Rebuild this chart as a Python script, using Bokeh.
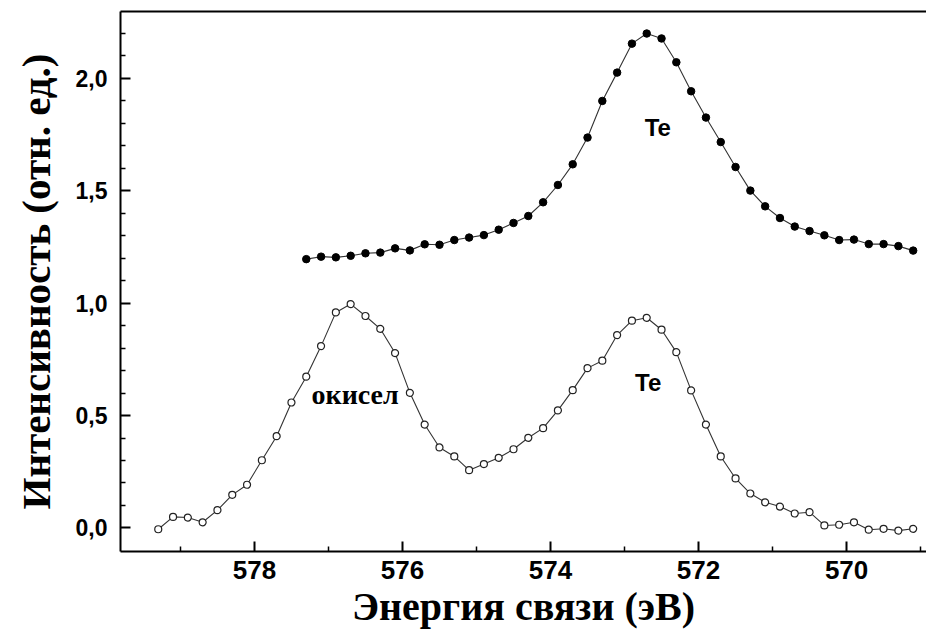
from bokeh.plotting import figure
from bokeh.models import Range1d, FixedTicker, LinearAxis, Label
from bokeh.embed import file_html
from bokeh.resources import INLINE

# Te (upper, filled markers)
energy_te = [577.3, 577.1, 576.9, 576.7, 576.5, 576.3, 576.1, 575.9, 575.7, 575.5,
             575.3, 575.1, 574.9, 574.7, 574.5, 574.3, 574.1, 573.9, 573.7, 573.5,
             573.3, 573.1, 572.9, 572.7, 572.5, 572.3, 572.1, 571.9, 571.7, 571.5,
             571.3, 571.1, 570.9, 570.7, 570.5, 570.3, 570.1, 569.9, 569.7, 569.5,
             569.3, 569.1]
intensity_te = [1.196, 1.207, 1.204, 1.211, 1.222, 1.225, 1.244, 1.235, 1.262, 1.260,
                1.281, 1.292, 1.303, 1.327, 1.357, 1.388, 1.449, 1.526, 1.618, 1.737,
                1.900, 2.026, 2.155, 2.200, 2.178, 2.072, 1.943, 1.826, 1.717, 1.606,
                1.501, 1.431, 1.379, 1.341, 1.321, 1.302, 1.281, 1.283, 1.263, 1.263,
                1.254, 1.234]

# oxide + Te (lower, open markers)
energy_ox = [579.3, 579.1, 578.9, 578.7, 578.5, 578.3, 578.1, 577.9, 577.7, 577.5,
             577.3, 577.1, 576.9, 576.7, 576.5, 576.3, 576.1, 575.9, 575.7, 575.5,
             575.3, 575.1, 574.9, 574.7, 574.5, 574.3, 574.1, 573.9, 573.7, 573.5,
             573.3, 573.1, 572.9, 572.7, 572.5, 572.3, 572.1, 571.9, 571.7, 571.5,
             571.3, 571.1, 570.9, 570.7, 570.5, 570.3, 570.1, 569.9, 569.7, 569.5,
             569.3, 569.1]
intensity_ox = [-0.006, 0.049, 0.046, 0.025, 0.079, 0.147, 0.192, 0.301, 0.408, 0.558,
                0.673, 0.809, 0.959, 0.996, 0.943, 0.886, 0.778, 0.601, 0.460, 0.358,
                0.318, 0.257, 0.284, 0.312, 0.350, 0.401, 0.444, 0.523, 0.613, 0.711,
                0.744, 0.858, 0.922, 0.935, 0.882, 0.782, 0.612, 0.460, 0.318, 0.220,
                0.153, 0.114, 0.095, 0.064, 0.070, 0.011, 0.014, 0.025, -0.008, -0.004,
                -0.012, -0.004]

x_major_ticks = [570, 572, 574, 576, 578]
x_minor_ticks = [569, 571, 573, 575, 577, 579]
y_major_ticks = [0.0, 0.5, 1.0, 1.5, 2.0]
y_tick_labels = ["0,0", "0,5", "1,0", "1,5", "2,0"]
y_minor_ticks = [0.1, 0.2, 0.3, 0.4, 0.6, 0.7, 0.8, 0.9, 1.1, 1.2, 1.3, 1.4,
                 1.6, 1.7, 1.8, 1.9, 2.1, 2.2]

x_title = "Энергия связи (эВ)"
y_title = "Интенсивность (отн. ед.)"

annotations = [
    (572.55, 1.78, "Te", "Liberation Sans", "24px"),
    (572.68, 0.645, "Te", "Liberation Sans", "24px"),
    (576.64, 0.595, "окисел", "Liberation Serif", "28px"),
]

p = figure(width=926, height=641, output_backend="svg", toolbar_location=None,
           x_range=Range1d(579.81, 568.92), y_range=Range1d(-0.105, 2.298),
           min_border_left=120, min_border_right=0, min_border_top=11,
           min_border_bottom=90, outline_line_color=None,
           background_fill_color="white", border_fill_color="white")
p.xgrid.visible = False
p.ygrid.visible = False

p.line(energy_te, intensity_te, line_color="#333333", line_width=1.1)
p.scatter(energy_te, intensity_te, size=7.5, fill_color="black", line_color="black")

p.line(energy_ox, intensity_ox, line_color="#333333", line_width=1.1)
p.scatter(energy_ox, intensity_ox, size=7, fill_color="white", line_color="#222222",
          line_width=1.2)

for ax in (p.xaxis[0], p.yaxis[0]):
    ax.axis_line_width = 2
    ax.major_tick_line_width = 2
    ax.minor_tick_line_width = 1.5
    ax.major_tick_in = 10
    ax.major_tick_out = 0
    ax.minor_tick_in = 5
    ax.minor_tick_out = 0
    ax.major_label_text_font = "Liberation Sans"
    ax.major_label_text_font_style = "bold"
    ax.major_label_text_color = "black"
    ax.axis_label_text_font = "Liberation Serif"
    ax.axis_label_text_font_style = "bold"
    ax.axis_label_text_color = "black"

xa = p.xaxis[0]
xa.ticker = FixedTicker(ticks=x_major_ticks, minor_ticks=x_minor_ticks)
xa.major_label_text_font_size = "26px"
xa.major_label_standoff = 9
xa.axis_label = x_title
xa.axis_label_text_font_size = "40px"
xa.axis_label_standoff = 2

ya = p.yaxis[0]
ya.ticker = FixedTicker(ticks=y_major_ticks, minor_ticks=y_minor_ticks)
ya.major_label_overrides = {t: s for t, s in zip(y_major_ticks, y_tick_labels)}
ya.major_label_orientation = "horizontal"
ya.major_label_text_font_size = "23px"
ya.major_label_standoff = 13
ya.axis_label = y_title
ya.axis_label_text_font_size = "41px"
ya.axis_label_standoff = 14

top = LinearAxis(ticker=FixedTicker(ticks=[]), major_label_text_font_size="0px",
                 axis_line_width=2, major_tick_in=0, major_tick_out=0,
                 minor_tick_in=0, minor_tick_out=0)
p.add_layout(top, "above")

for x, y, t, f, s in annotations:
    p.add_layout(Label(x=x, y=y, text=t, text_font=f, text_font_style="bold",
                       text_font_size=s, text_align="center", text_baseline="middle",
                       text_color="black"))

open("out.html", "w").write(file_html(p, INLINE))
